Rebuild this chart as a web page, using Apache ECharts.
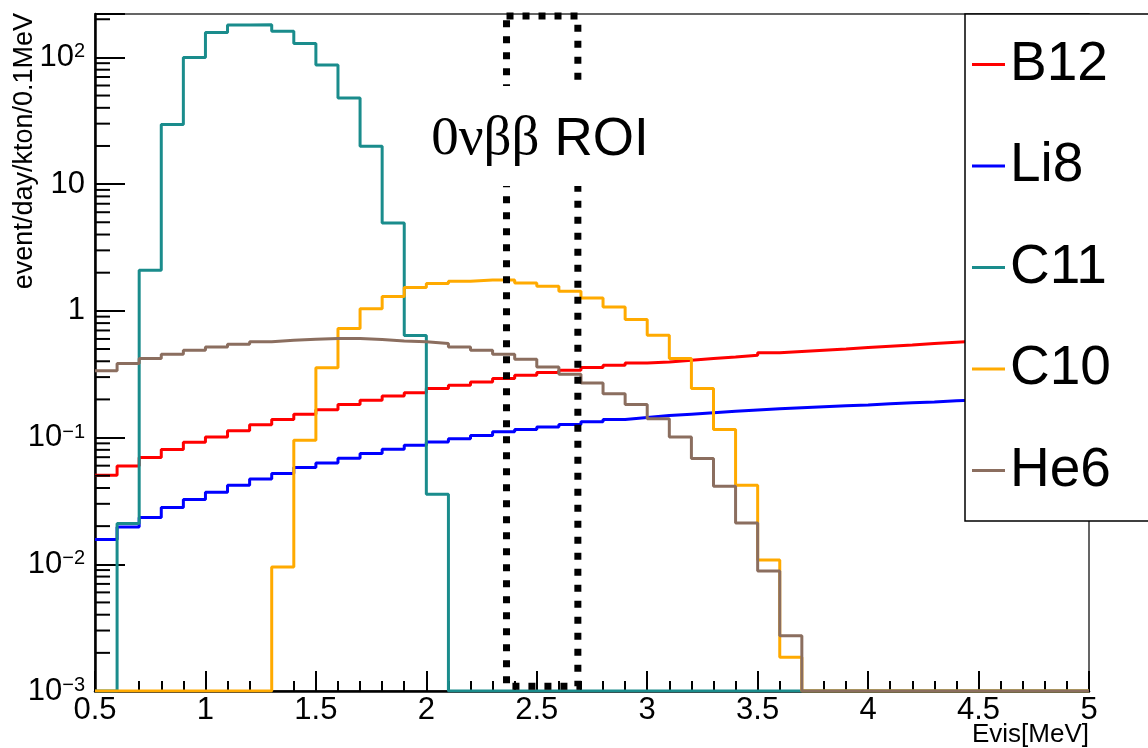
<!DOCTYPE html>
<html>
<head>
<meta charset="utf-8">
<title>cosmogenic backgrounds</title>
<script src="https://cdn.jsdelivr.net/npm/echarts@6.0.0/dist/echarts.min.js"></script>
<style>
  html, body { margin: 0; padding: 0; background: #fff; }
  #chart { width: 1148px; height: 748px; }
</style>
</head>
<body>
<div id="chart"></div>
<script>
// bin edges, 0.1 MeV bins
const binEdges = [0.5, 0.6, 0.7, 0.8, 0.9, 1.0, 1.1, 1.2, 1.3, 1.4, 1.5, 1.6, 1.7, 1.8, 1.9,
  2.0, 2.1, 2.2, 2.3, 2.4, 2.5, 2.6, 2.7, 2.8, 2.9, 3.0, 3.1, 3.2, 3.3, 3.4, 3.5, 3.6, 3.7,
  3.8, 3.9, 4.0, 4.1, 4.2, 4.3, 4.4, 4.5, 4.6, 4.7, 4.8, 4.9, 5.0]

// event/day/kton/0.1MeV per bin (0 = empty bin)
const b12 = [0.0504, 0.0597, 0.0695, 0.0804, 0.0918, 0.101, 0.113, 0.126, 0.139, 0.153, 0.166,
  0.182, 0.197, 0.213, 0.226, 0.244, 0.259, 0.275, 0.292, 0.310, 0.326, 0.340, 0.357, 0.372,
  0.388, 0.395, 0.407, 0.420, 0.432, 0.446, 0.466, 0.478, 0.489, 0.500, 0.513, 0.526, 0.538,
  0.552, 0.565, 0.578, 0.59, 0.60, 0.61, 0.62, 0.63]
const li8 = [0.0157, 0.0197, 0.0234, 0.028, 0.0324, 0.037, 0.042, 0.0471, 0.052, 0.058, 0.063,
  0.0687, 0.0748, 0.0809, 0.0869, 0.0923, 0.098, 0.104, 0.111, 0.116, 0.121, 0.127, 0.133,
  0.139, 0.144, 0.149, 0.153, 0.157, 0.161, 0.165, 0.169, 0.172, 0.175, 0.178, 0.181, 0.185,
  0.188, 0.191, 0.195, 0.198, 0.201, 0.204, 0.207, 0.210, 0.213]
const c11 = [0, 0.021, 2.09, 29.5, 100, 157, 180, 181, 161, 129, 87, 47.9, 19.9, 4.94, 0.64,
  0.0357, 0, 0, 0, 0, 0, 0, 0, 0, 0, 0, 0, 0, 0, 0, 0, 0, 0, 0, 0, 0, 0, 0, 0, 0, 0, 0, 0, 0, 0]
const c10 = [0, 0, 0, 0, 0, 0, 0, 0, 0.0095, 0.0953, 0.356, 0.725, 1.04, 1.30, 1.53, 1.64, 1.71,
  1.75, 1.75, 1.66, 1.56, 1.43, 1.26, 1.07, 0.853, 0.641, 0.42, 0.244, 0.116, 0.042, 0.0108,
  0.00185, 0, 0, 0, 0, 0, 0, 0, 0, 0, 0, 0, 0, 0]
const he6 = [0.336, 0.384, 0.421, 0.454, 0.489, 0.519, 0.545, 0.569, 0.586, 0.597, 0.604, 0.604,
  0.593, 0.578, 0.569, 0.552, 0.519, 0.489, 0.454, 0.415, 0.360, 0.316, 0.270, 0.222, 0.182,
  0.141, 0.101, 0.0683, 0.0413, 0.0212, 0.00886, 0.00273, 0, 0, 0, 0, 0, 0, 0, 0, 0, 0, 0, 0, 0]

const names = ['B12', 'Li8', 'C11', 'C10', 'He6']
const colors = ['#ff0000', '#0000ff', '#1a8c8c', '#ffaa00', '#8b6e5f']

// 0vbb ROI box (MeV, y range)
const roiX = [2.363, 2.686]
const roiY = [0.00109, 212]

const xMin = 0.5, xMax = 5
const yMin = 0.001, yMax = 220

// minor ticks of the log axis: 2..9 x each decade
const yMinorTicks = []
for (let e = -3; e <= 2; e++) {
  for (let m = 2; m <= 9; m++) {
    const v = m * Math.pow(10, e)
    if (v < yMax) yMinorTicks.push(Number(v.toPrecision(3)))
  }
}

// histogram as steps, empty bins sit on the bottom of the frame
const toSteps = vals => {
  const pts = vals.map((v, i) => [binEdges[i], v > 0 ? v : yMin])
  const last = vals[vals.length - 1]
  pts.push([binEdges[vals.length], last > 0 ? last : yMin])
  return pts
}

const FONT = 'Liberation Sans'

const fmtLog = v => {
  const e = Math.log10(v)
  const r = Math.round(e)
  if (Math.abs(e - r) > 1e-6) return ''
  if (r === 0) return '{n|1}'
  if (r === 1) return '{n|10}'
  return '{n|10}{s|' + (r < 0 ? '\u2212' + (-r) : r) + '}'
}

const histSeries = [b12, li8, c11, c10, he6].map((vals, i) => ({
  name: names[i],
  type: 'line',
  step: 'end',
  data: toSteps(vals),
  symbol: 'none',
  showSymbol: false,
  lineStyle: { color: colors[i], width: 3 },
  itemStyle: { color: colors[i] },
  z: 2
}))

let chart = echarts.init(document.getElementById('chart'))

let option = {
  animation: false,
  color: colors,
  grid: {
    left: 95, right: 59, top: 14, bottom: 57,
    show: true, borderColor: '#333', borderWidth: 1.5, backgroundColor: 'transparent'
  },
  xAxis: {
    type: 'value',
    min: xMin, max: xMax, interval: 0.5,
    axisLine: { lineStyle: { color: '#000', width: 2.5 } },
    axisTick: { inside: true, length: 20, lineStyle: { color: '#000', width: 2 } },
    minorTick: { show: true, splitNumber: 5, length: 10, lineStyle: { color: '#000', width: 2 } },
    axisLabel: { fontSize: 31, fontFamily: FONT, color: '#000', margin: 4 },
    splitLine: { show: false }
  },
  yAxis: {
    type: 'log',
    logBase: 10,
    min: yMin, max: yMax,
    axisLine: { show: true, lineStyle: { color: '#000', width: 2.5 } },
    axisTick: { show: true, inside: true, length: 30, lineStyle: { color: '#000', width: 2 } },
    axisLabel: {
      margin: 10,
      fontSize: 31,
      formatter: fmtLog,
      rich: {
        n: { fontSize: 31, fontFamily: FONT, color: '#000' },
        s: { fontSize: 20, fontFamily: FONT, color: '#000', verticalAlign: 'top' }
      }
    },
    splitLine: { show: false }
  },
  legend: {
    orient: 'vertical',
    left: 965, top: 14,
    data: names,
    icon: 'rect',
    itemWidth: 33, itemHeight: 3, itemGap: 46.5,
    padding: [23, 60, 23, 7],
    backgroundColor: '#fff',
    borderColor: '#000', borderWidth: 1.5,
    selectedMode: false,
    textStyle: { fontSize: 55, lineHeight: 55, fontFamily: FONT, color: '#000' },
    z: 10
  },
  series: histSeries.concat([
    {
      // dotted ROI box
      type: 'custom',
      silent: true,
      data: [[roiX[0], roiY[0], roiX[1], roiY[1]]],
      encode: { x: [0, 2], y: [1, 3] },
      renderItem: (params, api) => {
        const a = api.coord([api.value(0), api.value(3)])
        const b = api.coord([api.value(2), api.value(1)])
        return {
          type: 'rect',
          shape: { x: a[0], y: a[1], width: b[0] - a[0], height: b[1] - a[1] },
          style: { fill: 'transparent', stroke: '#000', lineWidth: 7, lineDash: [7, 9] }
        }
      },
      z: 3
    },
    {
      // minor ticks of the log axis
      type: 'custom',
      silent: true,
      data: yMinorTicks.map(v => [xMin, v]),
      renderItem: (params, api) => {
        const p = api.coord([api.value(0), api.value(1)])
        return {
          type: 'line',
          shape: { x1: p[0], y1: p[1], x2: p[0] + 15, y2: p[1] },
          style: { stroke: '#000', lineWidth: 2 }
        }
      },
      z: 5
    }
  ]),
  graphic: [
    {
      // white pave behind the ROI text
      type: 'rect', z: 50,
      shape: { x: 418, y: 86, width: 250, height: 100 },
      style: { fill: '#fff' }
    },
    {
      type: 'text', z: 51,
      x: 540, y: 140,
      style: {
        text: '{g|0\u03bd\u03b2\u03b2}{sp|\u00a0}{r|ROI}',
        align: 'center', verticalAlign: 'middle',
        rich: {
          g: { fontSize: 55, fontFamily: 'Liberation Serif', fill: '#000' },
          sp: { fontSize: 53, fontFamily: FONT, fill: '#000', width: 15 },
          r: { fontSize: 53, fontFamily: FONT, fill: '#000' }
        }
      }
    },
    {
      type: 'text', z: 51,
      x: 25, y: 13, rotation: Math.PI / 2,
      style: {
        text: 'event/day/kton/0.1MeV',
        align: 'right', verticalAlign: 'middle',
        fontSize: 27, fontFamily: FONT, fill: '#000'
      }
    },
    {
      type: 'text', z: 51,
      x: 1089, y: 722,
      style: {
        text: 'Evis[MeV]',
        align: 'right', verticalAlign: 'top',
        fontSize: 26, fontFamily: FONT, fill: '#000'
      }
    }
  ]
}

chart.setOption(option)
</script>
</body>
</html>
